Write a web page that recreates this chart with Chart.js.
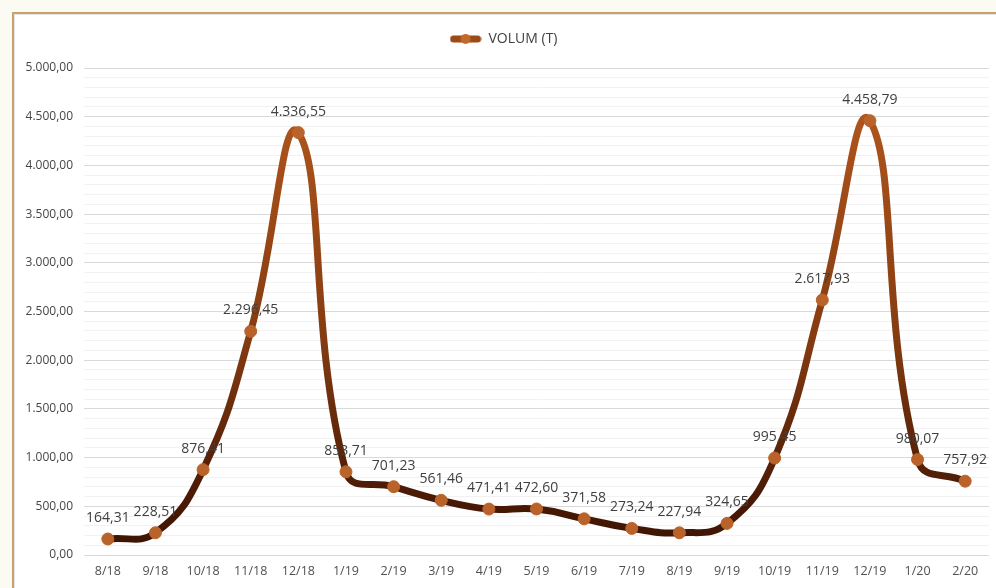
<!DOCTYPE html>
<html>
<head>
<meta charset="utf-8">
<script src="https://cdn.jsdelivr.net/npm/chart.js@4.4.1/dist/chart.umd.min.js"></script>
<style>
  html, body { margin: 0; padding: 0; background: #fbfbf3; width: 996px; height: 588px; overflow: hidden; }
  #frame { position: absolute; left: 12px; top: 12px; width: 990px; height: 582px;
           border-left: 2px solid #c9a06f; border-top: 2px solid #c9a06f; background: #ffffff;
           box-shadow: inset 1px 1px 0 #e4e4e4; }
  #wrap { position: absolute; left: 15px; top: 15px; width: 981px; height: 573px; }
</style>
</head>
<body>
<div id="frame"></div>
<div id="wrap"><canvas id="c" width="981" height="573"></canvas></div>
<script>
const categories = ['8/18','9/18','10/18','11/18','12/18','1/19','2/19','3/19','4/19','5/19','6/19','7/19','8/19','9/19','10/19','11/19','12/19','1/20','2/20'];
const volumValues = [164.31, 228.51, 876.41, 2296.45, 4336.55, 853.71, 701.23, 561.46, 471.41, 472.60, 371.58, 273.24, 227.94, 324.65, 995.45, 2617.93, 4458.79, 980.07, 757.92];
const seriesName = 'VOLUM (T)';
const yMin = 0, yMax = 5000, yMajor = 500, yMinor = 100;

function fmt(v) {
  const neg = v < 0; v = Math.abs(v);
  const parts = v.toFixed(2).split('.');
  const intPart = parts[0].replace(/\B(?=(\d{3})+(?!\d))/g, '.');
  return (neg ? '-' : '') + intPart + ',' + parts[1];
}

function lineGradient(ctx) {
  const chart = ctx.chart;
  const area = chart.chartArea;
  if (!area) return '#6a2a0a';
  const g = chart.ctx.createLinearGradient(0, area.bottom, 0, area.top);
  g.addColorStop(0, '#3a1303');
  g.addColorStop(0.12, '#4a1a05');
  g.addColorStop(0.45, '#853c11');
  g.addColorStop(0.9, '#ae541c');
  g.addColorStop(1, '#b4591f');
  return g;
}

// legend icon
const icon = document.createElement('canvas');
icon.width = 32; icon.height = 12;
(function(){
  const x = icon.getContext('2d');
  x.lineCap = 'round';
  x.strokeStyle = '#9c4a16';
  x.lineWidth = 7;
  x.beginPath(); x.moveTo(4, 6); x.lineTo(28, 6); x.stroke();
  x.fillStyle = '#c06a2c';
  x.beginPath(); x.arc(16, 6, 5, 0, Math.PI * 2); x.fill();
})();

const legendSpace = {
  id: 'legendSpace',
  afterInit(chart) {
    const lg = chart.legend;
    if (!lg) return;
    const fit = lg.fit;
    lg.fit = function() { fit.call(this); this.height += 12; };
  }
};

const labelPlugin = {
  id: 'valueLabels',
  afterDatasetsDraw(chart) {
    const ctx = chart.ctx;
    const meta = chart.getDatasetMeta(0);
    ctx.save();
    ctx.font = '14px "Open Sans", "Liberation Sans", sans-serif';
    ctx.fillStyle = '#404040';
    ctx.textAlign = 'center';
    ctx.textBaseline = 'middle';
    meta.data.forEach((pt, i) => {
      ctx.fillText(fmt(volumValues[i]), pt.x, pt.y - 21);
    });
    ctx.restore();
  }
};

new Chart(document.getElementById('c'), {
  type: 'line',
  data: {
    labels: categories,
    datasets: [{
      label: seriesName,
      data: volumValues,
      borderColor: lineGradient,
      borderWidth: 7,
      tension: 0.45,
      pointRadius: 6,
      pointHoverRadius: 6,
      pointBackgroundColor: '#b9632a',
      pointBorderColor: '#b9632a',
      pointBorderWidth: 1,
      pointStyle: 'circle',
      fill: false
    }]
  },
  options: {
    responsive: false,
    animation: false,
    layout: { padding: { top: 3, right: 4, bottom: 0, left: 0 } },
    plugins: {
      legend: {
        position: 'top',
        labels: {
          usePointStyle: true,
          pointStyleWidth: 32,
          color: '#404040',
          font: { size: 14, family: '"Open Sans", "Liberation Sans", sans-serif' },
          padding: 14,
          generateLabels(chart) {
            return [{ text: seriesName, pointStyle: icon, fillStyle: '#a04c17', strokeStyle: '#a04c17', lineWidth: 0, datasetIndex: 0, hidden: false, fontColor: '#404040' }];
          }
        }
      },
      tooltip: { enabled: false }
    },
    scales: {
      x: {
        offset: true,
        grid: { display: false, drawTicks: false },
        border: { display: false },
        ticks: { color: '#505050', font: { size: 12.5, family: '"Open Sans", "Liberation Sans", sans-serif' }, padding: 9, maxRotation: 0, autoSkip: false }
      },
      y: {
        min: yMin, max: yMax,
        afterFit(scale) { scale.width = 69; },
        grid: {
          drawTicks: false,
          color(ctx) { return (ctx.tick && Math.round(ctx.tick.value) % yMajor === 0) ? '#d9d9d9' : '#f2f2f2'; },
          lineWidth: 1
        },
        border: { display: false },
        ticks: {
          stepSize: yMinor,
          autoSkip: false,
          padding: 11,
          color: '#454545',
          font: { size: 12, family: '"Open Sans", "Liberation Sans", sans-serif' },
          callback(v) { return (Math.round(v) % yMajor === 0) ? fmt(v) : ''; }
        }
      }
    }
  },
  plugins: [legendSpace, labelPlugin]
});
</script>
</body>
</html>
